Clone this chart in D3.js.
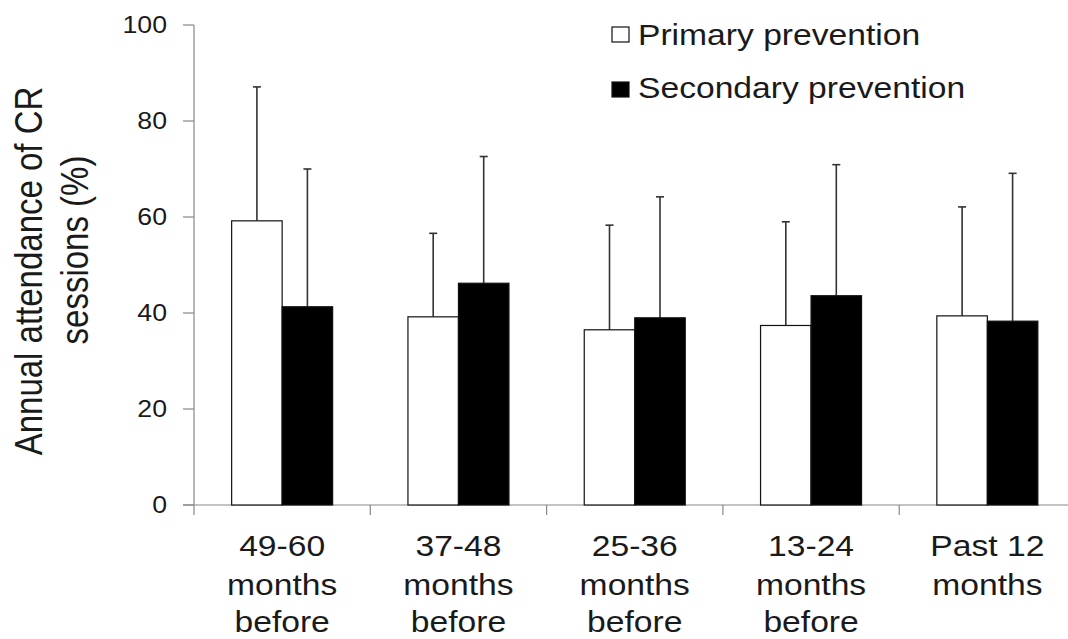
<!DOCTYPE html>
<html>
<head>
<meta charset="utf-8">
<script src="https://cdn.jsdelivr.net/npm/d3@7"></script>
<style>
  body { margin: 0; background: #fff; }
  text { font-family: Arial, 'Liberation Sans', sans-serif; fill: #1a1a1a; }
</style>
</head>
<body>
<div id="visualization"></div>
<script>
var categories = ['49-60|months|before', '37-48|months|before', '25-36|months|before', '13-24|months|before', 'Past 12|months']
var primaryMean = [59.2, 39.2, 36.5, 37.4, 39.4]
var primarySd = [27.9, 17.4, 21.8, 21.6, 22.7]
var secondaryMean = [41.3, 46.2, 39.0, 43.6, 38.3]
var secondarySd = [28.7, 26.4, 25.2, 27.3, 30.8]
var seriesNames = ['Primary prevention', 'Secondary prevention']
var yTicks = [0, 20, 40, 60, 80, 100]

// the original picture is stretched sideways, so text is too
var stretch = 1.16

function drawChart () {
  var width = 1068
  var height = 639
  var left = 194
  var top = 25
  var bottom = 505
  var bandWidth = 176.3
  var barWidth = 50.5

  var svg = d3.select('#visualization')
    .append('svg')
    .attr('width', width)
    .attr('height', height)

  var x = d3.scaleBand()
    .domain(categories)
    .range([left, left + bandWidth * categories.length])
    .padding(0)

  var y = d3.scaleLinear()
    .domain([0, 100])
    .range([bottom, top])

  var series = [
    { name: seriesNames[0], mean: primaryMean, sd: primarySd, fill: '#fff', offset: -barWidth },
    { name: seriesNames[1], mean: secondaryMean, sd: secondarySd, fill: '#000', offset: 0 }
  ]

  // y axis
  svg.append('line')
    .attr('x1', left).attr('x2', left)
    .attr('y1', y(100)).attr('y2', y(0))
    .attr('stroke', '#888').attr('stroke-width', 1.2)

  svg.selectAll('.ytick')
    .data(yTicks)
    .enter()
    .append('line')
    .attr('class', 'ytick')
    .attr('x1', left - 11).attr('x2', left)
    .attr('y1', function (d) { return y(d) })
    .attr('y2', function (d) { return y(d) })
    .attr('stroke', '#888').attr('stroke-width', 1.2)

  svg.selectAll('.ylabel')
    .data(yTicks)
    .enter()
    .append('text')
    .attr('class', 'ylabel')
    .attr('transform', function (d) {
      return 'translate(167,' + y(d) + ') scale(' + stretch + ',1)'
    })
    .attr('dy', '.36em')
    .style('text-anchor', 'end')
    .style('font-size', '23px')
    .text(function (d) { return d })

  // x axis
  svg.append('line')
    .attr('x1', left - 11).attr('x2', width + 20)
    .attr('y1', bottom).attr('y2', bottom)
    .attr('stroke', '#888').attr('stroke-width', 1.2)

  var bounds = categories.map(function (c) { return x(c) })
  bounds.push(x(categories[categories.length - 1]) + x.bandwidth())
  svg.selectAll('.xtick')
    .data(bounds)
    .enter()
    .append('line')
    .attr('class', 'xtick')
    .attr('x1', function (d) { return d })
    .attr('x2', function (d) { return d })
    .attr('y1', bottom).attr('y2', bottom + 10)
    .attr('stroke', '#888').attr('stroke-width', 1.2)

  // bars and error bars
  series.forEach(function (s) {
    var g = svg.append('g')
    var cx = function (i) {
      return x(categories[i]) + x.bandwidth() / 2 + s.offset
    }

    g.selectAll('.err')
      .data(s.mean)
      .enter()
      .append('line')
      .attr('x1', function (d, i) { return cx(i) + barWidth / 2 })
      .attr('x2', function (d, i) { return cx(i) + barWidth / 2 })
      .attr('y1', function (d) { return y(d) })
      .attr('y2', function (d, i) { return y(d + s.sd[i]) })
      .attr('stroke', '#333').attr('stroke-width', 1.6)

    g.selectAll('.cap')
      .data(s.mean)
      .enter()
      .append('line')
      .attr('x1', function (d, i) { return cx(i) + barWidth / 2 - 4 })
      .attr('x2', function (d, i) { return cx(i) + barWidth / 2 + 4 })
      .attr('y1', function (d, i) { return y(d + s.sd[i]) })
      .attr('y2', function (d, i) { return y(d + s.sd[i]) })
      .attr('stroke', '#333').attr('stroke-width', 1.6)

    g.selectAll('rect')
      .data(s.mean)
      .enter()
      .append('rect')
      .attr('x', function (d, i) { return cx(i) })
      .attr('y', function (d) { return y(d) })
      .attr('width', barWidth)
      .attr('height', function (d) { return y(0) - y(d) })
      .attr('fill', s.fill)
      .attr('stroke', '#111')
      .attr('stroke-width', 1.2)
  })

  // category labels
  var lineYs = [556, 595, 632]
  categories.forEach(function (c) {
    c.split('|').forEach(function (part, j) {
      svg.append('text')
        .attr('transform', 'translate(' + (x(c) + x.bandwidth() / 2) + ',' + lineYs[j] + ') scale(' + stretch + ',1)')
        .style('text-anchor', 'middle')
        .style('font-size', '29px')
        .text(part)
    })
  })

  // axis title
  var titleLines = ['Annual attendance of CR', 'sessions (%)']
  var titleX = [42, 88]
  var titleY = [271, 250]
  titleLines.forEach(function (t, i) {
    svg.append('text')
      .attr('transform', 'translate(' + titleX[i] + ',' + titleY[i] + ') scale(' + stretch + ',1) rotate(-90)')
      .style('text-anchor', 'middle')
      .style('font-size', '33px')
      .text(t)
  })

  // legend
  var legendY = [27, 82]
  var textY = [45, 98]
  series.forEach(function (s, i) {
    svg.append('rect')
      .attr('x', 612).attr('y', legendY[i])
      .attr('width', 17).attr('height', 15)
      .attr('fill', s.fill)
      .attr('stroke', '#111').attr('stroke-width', 1.2)
    svg.append('text')
      .attr('transform', 'translate(638,' + textY[i] + ') scale(' + stretch + ',1)')
      .style('font-size', '29px')
      .text(s.name)
  })
}

drawChart()
</script>
</body>
</html>
